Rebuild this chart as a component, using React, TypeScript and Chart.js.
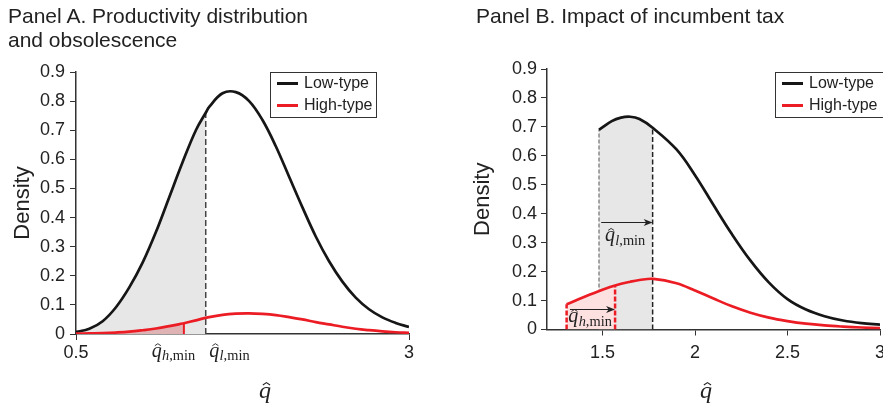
import React, { useEffect, useRef } from "react";
import { Chart, registerables } from "chart.js";

Chart.register(...registerables);

const SANS = '"Liberation Sans", Arial, Helvetica, sans-serif';
const SERIF = '"Liberation Serif", "Times New Roman", serif';

// ---------------- Panel A data ----------------
const qA = [0.5, 0.6, 0.7, 0.8, 0.9, 1.0, 1.1, 1.2, 1.3, 1.4, 1.5, 1.6, 1.7, 1.8, 1.9, 2.0, 2.1, 2.2, 2.3, 2.4, 2.5, 2.6, 2.7, 2.8, 2.9, 3.0];
const lowA = [0.007, 0.018, 0.044, 0.092, 0.16, 0.245, 0.35, 0.47, 0.59, 0.70, 0.78, 0.827, 0.831, 0.80, 0.735, 0.645, 0.54, 0.435, 0.335, 0.25, 0.18, 0.125, 0.085, 0.057, 0.038, 0.024];
const highA = [0.001, 0.002, 0.003, 0.005, 0.008, 0.013, 0.019, 0.027, 0.036, 0.047, 0.058, 0.066, 0.07, 0.071, 0.069, 0.065, 0.058, 0.05, 0.041, 0.033, 0.025, 0.018, 0.013, 0.009, 0.006, 0.004];
const qLowMinA = 1.474;
const lowAtLowMinA = 0.76;
const qHighMinA = 1.31;
const highAtHighMinA = 0.037;

// ---------------- Panel B data ----------------
const qLowB = [1.481, 1.55, 1.6, 1.65, 1.7, 1.771, 1.9, 2.0, 2.1, 2.2, 2.3, 2.4, 2.5, 2.6, 2.7, 2.8, 2.9, 3.0];
const lowB = [0.69, 0.72, 0.732, 0.735, 0.727, 0.697, 0.622, 0.533, 0.43, 0.329, 0.238, 0.162, 0.105, 0.069, 0.046, 0.031, 0.022, 0.017];
const qHighB = [1.306, 1.4, 1.5, 1.568, 1.65, 1.7, 1.775, 1.9, 2.0, 2.1, 2.2, 2.3, 2.4, 2.5, 2.6, 2.7, 2.8, 2.9, 3.0];
const highB = [0.087, 0.112, 0.137, 0.152, 0.165, 0.171, 0.175, 0.16, 0.135, 0.107, 0.08, 0.058, 0.041, 0.029, 0.02, 0.014, 0.01, 0.007, 0.005];
const qLowMinOldB = 1.481;
const qLowMinNewB = 1.771;
const qHighMinOldB = 1.306;
const qHighMinNewB = 1.568;
const arrowLevelLowB = 0.37;
const arrowLevelHighB = 0.071;

// ---------------- ticks / labels ----------------
const yTicks = [0, 0.1, 0.2, 0.3, 0.4, 0.5, 0.6, 0.7, 0.8, 0.9];
const xTicksA = [0.5, 3];
const xTicksB = [1.5, 2, 2.5, 3];
const seriesNames = ["Low-type", "High-type"];
const titleA = ["Panel A. Productivity distribution", "and obsolescence"];
const titleB = "Panel B. Impact of incumbent tax";
const yTitle = "Density";

const BLACK = "#161616";
const RED = "#ec1c24";
const AXIS = "#333333";
const TEXT = "#222222";
const TENSION = 0.38;

type P = { x: number; y: number };
const zip = (xs: number[], ys: number[]): P[] => xs.map((x, i) => ({ x, y: ys[i] }));
const withPoint = (pts: P[], p: P): P[] =>
  [...pts.filter((q) => Math.abs(q.x - p.x) > 1e-9), p].sort((a, b) => a.x - b.x);
const upTo = (pts: P[], x: number): P[] => pts.filter((p) => p.x <= x + 1e-9);

function curve(label: string, data: P[], color: string, order: number) {
  return {
    label, data, borderColor: color, borderWidth: 2.7, pointRadius: 0, fill: false,
    tension: TENSION, order,
  };
}
function area(data: P[], color: string, order: number) {
  return {
    label: "", data, borderWidth: 0, borderColor: "rgba(0,0,0,0)", backgroundColor: color,
    pointRadius: 0, fill: "origin", tension: TENSION, order,
  };
}
function vline(x: number, top: number, color: string, width: number, dash: number[], order: number) {
  return {
    label: "", data: [{ x, y: 0 }, { x, y: top }], borderColor: color, borderWidth: width,
    borderDash: dash, pointRadius: 0, fill: false, tension: 0, order,
  };
}

function drawQHat(ctx: CanvasRenderingContext2D, x: number, base: number, size: number, sub?: string) {
  ctx.save();
  ctx.fillStyle = TEXT;
  ctx.strokeStyle = TEXT;
  ctx.textAlign = "left";
  ctx.textBaseline = "alphabetic";
  ctx.font = `italic ${size}px ${SERIF}`;
  ctx.fillText("q", x, base);
  const qw = ctx.measureText("q").width;
  const hx = x + qw * 0.62;
  const hy = base - size * 0.64;
  const hw = size * 0.15;
  const hh = size * 0.1;
  ctx.lineWidth = Math.max(0.9, size * 0.045);
  ctx.beginPath();
  ctx.moveTo(hx - hw, hy + hh);
  ctx.lineTo(hx, hy);
  ctx.lineTo(hx + hw, hy + hh);
  ctx.stroke();
  if (sub) {
    const ss = size * 0.72;
    let cx = x + qw + size * 0.02;
    const sb = base + size * 0.17;
    ctx.font = `italic ${ss}px ${SERIF}`;
    ctx.fillText(sub, cx, sb);
    cx += ctx.measureText(sub).width;
    ctx.font = `${ss}px ${SERIF}`;
    ctx.fillText(",min", cx, sb);
  }
  ctx.restore();
}

function drawArrow(ctx: CanvasRenderingContext2D, x1: number, x2: number, y: number) {
  ctx.save();
  ctx.strokeStyle = TEXT;
  ctx.fillStyle = TEXT;
  ctx.lineWidth = 1;
  const yy = Math.round(y) + 0.5;
  ctx.beginPath();
  ctx.moveTo(x1, yy);
  ctx.lineTo(x2 - 3, yy);
  ctx.stroke();
  ctx.beginPath();
  ctx.moveTo(x2, yy);
  ctx.lineTo(x2 - 9, yy - 3.5);
  ctx.lineTo(x2 - 6.5, yy);
  ctx.lineTo(x2 - 9, yy + 3.5);
  ctx.closePath();
  ctx.fill();
  ctx.restore();
}

type OverlayCfg = {
  legendBox: [number, number, number, number];
  xTitleX: number;
  axisLabels?: { x: number; sub: string }[];
  innerLabels?: { x: number; y: number; sub: string }[];
  arrows?: { x1: number; x2: number; y: number }[];
};

function makeOverlay(cfg: OverlayCfg) {
  return {
    id: "overlay",
    afterDraw(chart: any) {
      const ctx: CanvasRenderingContext2D = chart.ctx;
      const xs = chart.scales.x;
      const ys = chart.scales.y;
      const bottom = chart.chartArea.bottom;
      (cfg.arrows || []).forEach((a) =>
        drawArrow(ctx, xs.getPixelForValue(a.x1), xs.getPixelForValue(a.x2), ys.getPixelForValue(a.y))
      );
      (cfg.innerLabels || []).forEach((l) =>
        drawQHat(ctx, xs.getPixelForValue(l.x), ys.getPixelForValue(l.y), 20, l.sub)
      );
      (cfg.axisLabels || []).forEach((l) => drawQHat(ctx, xs.getPixelForValue(l.x), bottom + 22.5, 20, l.sub));
      ctx.save();
      ctx.font = `italic 24px ${SERIF}`;
      const w = ctx.measureText("q").width;
      ctx.restore();
      drawQHat(ctx, cfg.xTitleX - w / 2, 398, 24);
      const [l, t, r, b] = cfg.legendBox;
      ctx.save();
      ctx.fillStyle = "#ffffff";
      ctx.fillRect(l, t, r - l, b - t);
      ctx.strokeStyle = AXIS;
      ctx.lineWidth = 1;
      ctx.strokeRect(l + 0.5, t + 0.5, r - l - 1, b - t - 1);
      const colors = [BLACK, RED];
      seriesNames.forEach((name, i) => {
        const cy = t + 11.5 + i * 22;
        ctx.strokeStyle = colors[i];
        ctx.lineWidth = 3;
        ctx.beginPath();
        ctx.moveTo(l + 7, cy);
        ctx.lineTo(l + 28, cy);
        ctx.stroke();
        ctx.fillStyle = TEXT;
        ctx.font = `16px ${SANS}`;
        ctx.textAlign = "left";
        ctx.textBaseline = "middle";
        ctx.fillText(name, l + 34, cy + 0.5);
      });
      ctx.restore();
    },
  };
}

function baseOptions(opts: {
  xMin: number; xMax: number; xTicks: number[]; padTop: number; padRight: number;
  xHeight: number; yWidth: number; xLabelPad: number; yLabelPad: number;
}) {
  return {
    animation: false,
    responsive: false,
    maintainAspectRatio: false,
    events: [],
    layout: { padding: { left: 0, top: opts.padTop, right: opts.padRight, bottom: 0 } },
    plugins: { legend: { display: false }, tooltip: { enabled: false }, title: { display: false } },
    elements: { point: { radius: 0 } },
    scales: {
      x: {
        type: "linear",
        min: opts.xMin,
        max: opts.xMax,
        afterBuildTicks: (s: any) => { s.ticks = opts.xTicks.map((v) => ({ value: v })); },
        afterFit: (s: any) => { s.height = opts.xHeight; },
        ticks: {
          autoSkip: false, maxRotation: 0, padding: opts.xLabelPad, color: TEXT,
          font: { family: SANS, size: 18 },
          callback: (v: any) => String(v),
        },
        grid: { drawOnChartArea: false, drawTicks: true, tickLength: 6, color: AXIS, lineWidth: 1 },
        border: { display: true, color: AXIS, width: 1.5 },
      },
      y: {
        min: 0,
        max: 0.9,
        afterBuildTicks: (s: any) => { s.ticks = yTicks.map((v) => ({ value: v })); },
        afterFit: (s: any) => { s.width = opts.yWidth; },
        ticks: {
          padding: opts.yLabelPad, color: TEXT, font: { family: SANS, size: 18 },
          callback: (v: any) => (Math.abs(v) < 1e-9 ? "0" : Number(v).toFixed(1)),
        },
        title: {
          display: true, text: yTitle, color: TEXT, font: { family: SANS, size: 22 },
          padding: { top: 10, bottom: 0 },
        },
        grid: { drawOnChartArea: false, drawTicks: true, tickLength: 6, color: AXIS, lineWidth: 1 },
        border: { display: true, color: AXIS, width: 1.5 },
      },
    },
  };
}

function configA(): any {
  const low = withPoint(zip(qA, lowA), { x: qLowMinA, y: lowAtLowMinA });
  const high = withPoint(zip(qA, highA), { x: qHighMinA, y: highAtHighMinA });
  return {
    type: "line",
    data: {
      datasets: [
        curve(seriesNames[1], high, RED, 0),
        curve(seriesNames[0], low, BLACK, 1),
        vline(qHighMinA, highAtHighMinA, RED, 2, [], 2),
        vline(qLowMinA, lowAtLowMinA, "#444444", 1.5, [6, 3], 2),
        area(upTo(high, qHighMinA), "#dfb2b4", 3),
        area(upTo(low, qLowMinA), "#e7e7e7", 4),
      ],
    },
    options: baseOptions({
      xMin: 0.5, xMax: 3, xTicks: xTicksA, padTop: 72, padRight: 31,
      xHeight: 73, yWidth: 76, xLabelPad: 2, yLabelPad: 5,
    }),
    plugins: [
      makeOverlay({
        legendBox: [270, 72, 377, 118],
        xTitleX: 265,
        axisLabels: [
          { x: 1.068, sub: "h" },
          { x: 1.5, sub: "l" },
        ],
      }),
    ],
  };
}

function configB(): any {
  const low = zip(qLowB, lowB);
  const high = zip(qHighB, highB);
  const lowTopOld = lowB[qLowB.indexOf(qLowMinOldB)];
  const lowTopNew = lowB[qLowB.indexOf(qLowMinNewB)];
  const highTopOld = highB[qHighB.indexOf(qHighMinOldB)];
  const highTopNew = highB[qHighB.indexOf(qHighMinNewB)];
  return {
    type: "line",
    data: {
      datasets: [
        curve(seriesNames[1], high, RED, 0),
        curve(seriesNames[0], low, BLACK, 1),
        vline(qHighMinOldB, highTopOld, RED, 2.5, [5, 2], 2),
        vline(qHighMinNewB, highTopNew, RED, 2.5, [5, 2], 2),
        vline(qLowMinNewB, lowTopNew, "#222222", 1.5, [5, 2.5], 3),
        area(upTo(high, qHighMinNewB), "#fde0e0", 4),
        vline(qLowMinOldB, lowTopOld, "#555555", 1, [4, 2], 5),
        area(upTo(low, qLowMinNewB), "#e7e7e7", 6),
      ],
    },
    options: baseOptions({
      xMin: 1.2, xMax: 3, xTicks: xTicksB, padTop: 69, padRight: 20,
      xHeight: 77.5, yWidth: 87, xLabelPad: 7, yLabelPad: 4,
    }),
    plugins: [
      makeOverlay({
        legendBox: [315, 72, 424, 118],
        xTitleX: 246,
        arrows: [
          { x1: 1.493, x2: qLowMinNewB, y: arrowLevelLowB },
          { x1: 1.324, x2: qHighMinNewB, y: arrowLevelHighB },
        ],
        innerLabels: [
          { x: 1.513, y: 0.305, sub: "l" },
          { x: 1.315, y: 0.025, sub: "h" },
        ],
      }),
    ],
  };
}

function Panel({ make, left, width }: { make: () => any; left: number; width: number }) {
  const ref = useRef<HTMLCanvasElement | null>(null);
  useEffect(() => {
    if (!ref.current) return;
    const chart = new Chart(ref.current, make());
    return () => chart.destroy();
  }, [make]);
  return (
    <canvas
      ref={ref}
      width={width}
      height={407}
      style={{ position: "absolute", left, top: 0, width, height: 407, display: "block" }}
    />
  );
}

const titleStyle: React.CSSProperties = {
  position: "absolute",
  top: 4,
  font: `21px ${SANS}`,
  lineHeight: "23.5px",
  color: TEXT,
  whiteSpace: "nowrap",
};

export default function App() {
  return (
    <div
      style={{
        position: "absolute", left: 0, top: 0, width: 883, height: 407,
        overflow: "hidden", background: "#ffffff",
      }}
    >
      <Panel make={configA} left={0} width={440} />
      <Panel make={configB} left={460} width={440} />
      <div style={{ ...titleStyle, left: 8 }}>
        {titleA[0]}
        <br />
        {titleA[1]}
      </div>
      <div style={{ ...titleStyle, left: 476 }}>{titleB}</div>
    </div>
  );
}
